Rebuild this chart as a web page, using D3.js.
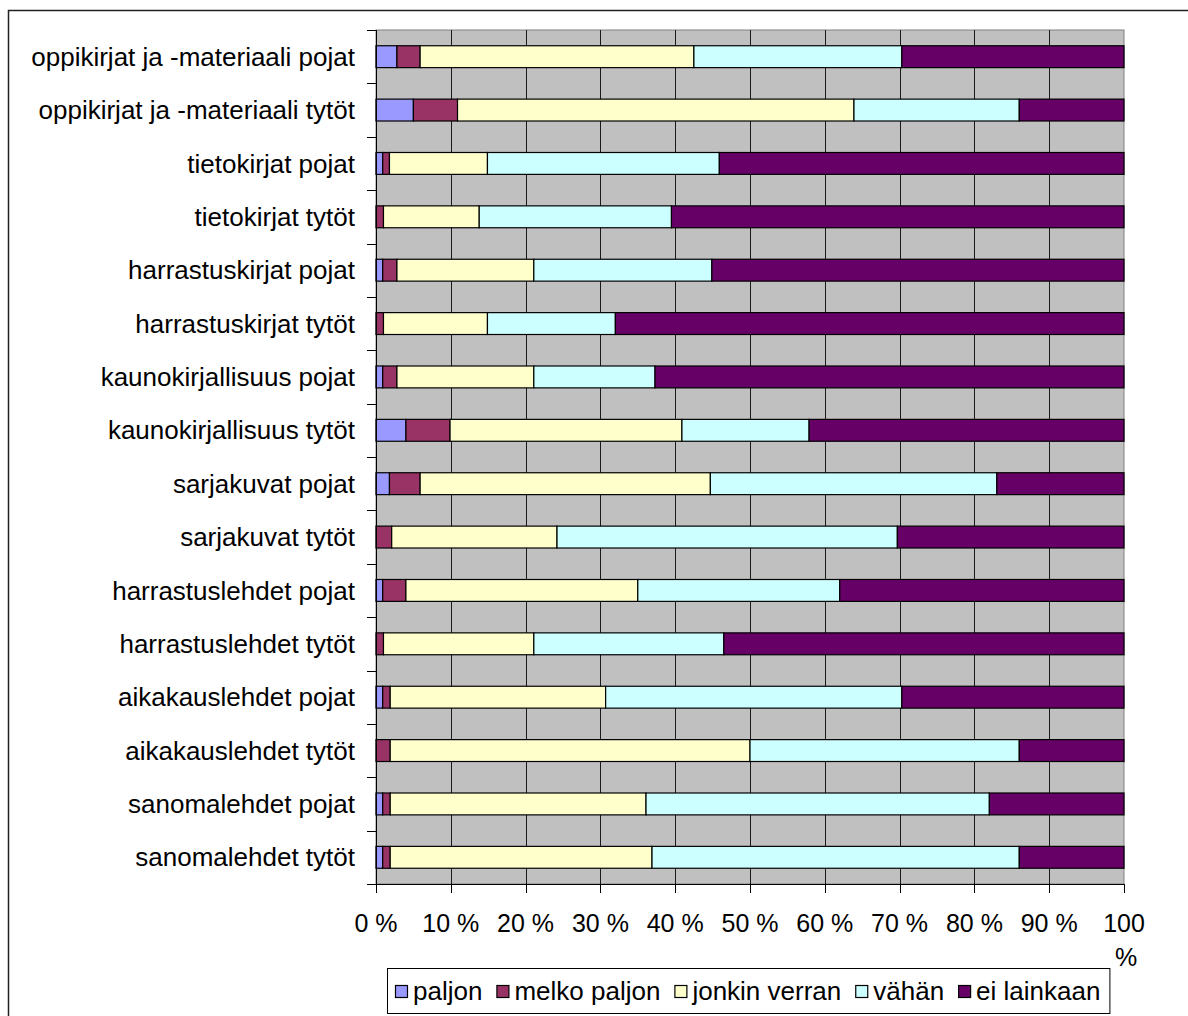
<!DOCTYPE html>
<html>
<head>
<meta charset="utf-8">
<script src="https://cdn.jsdelivr.net/npm/d3@7"></script>
<style>
  html, body { margin: 0; padding: 0; background: #fff; }
  svg { display: block; }
  text { font-family: "Liberation Sans", Arial, sans-serif; fill: #000; }
</style>
</head>
<body>
<svg id="chart" width="1188" height="1016"></svg>
<script>
// Reading of books and magazines, share of answers (%) per group
const categories = [
  "oppikirjat ja -materiaali pojat",
  "oppikirjat ja -materiaali tytöt",
  "tietokirjat pojat",
  "tietokirjat tytöt",
  "harrastuskirjat pojat",
  "harrastuskirjat tytöt",
  "kaunokirjallisuus pojat",
  "kaunokirjallisuus tytöt",
  "sarjakuvat pojat",
  "sarjakuvat tytöt",
  "harrastuslehdet pojat",
  "harrastuslehdet tytöt",
  "aikakauslehdet pojat",
  "aikakauslehdet tytöt",
  "sanomalehdet pojat",
  "sanomalehdet tytöt"
];

const seriesNames = ["paljon", "melko paljon", "jonkin verran", "vähän", "ei lainkaan"];

const paljon       = [2.8, 5.0, 0.9, 0.0, 0.9, 0.0, 0.9, 4.0, 1.8, 0.0, 0.9, 0.0, 0.9, 0.0, 0.9, 0.9];
const melkoPaljon  = [3.1, 5.9, 0.9, 1.0, 1.9, 1.0, 1.9, 5.9, 4.1, 2.1, 3.1, 1.0, 1.0, 1.9, 1.0, 1.0];
const jonkinVerran = [36.6, 53.0, 13.1, 12.8, 18.3, 13.9, 18.3, 31.0, 38.8, 22.1, 31.0, 20.1, 28.8, 48.1, 34.2, 35.0];
const vahan        = [27.8, 22.1, 31.0, 25.7, 23.8, 17.1, 16.2, 17.0, 38.3, 45.5, 27.0, 25.4, 39.6, 36.0, 45.9, 49.1];
const eiLainkaan   = [29.7, 14.0, 54.1, 60.5, 55.1, 68.0, 62.7, 42.1, 17.0, 30.3, 38.0, 53.5, 29.7, 14.0, 18.0, 14.0];

const xTickValues = [0, 10, 20, 30, 40, 50, 60, 70, 80, 90, 100];
const xTickLabels = ["0 %", "10 %", "20 %", "30 %", "40 %", "50 %", "60 %", "70 %", "80 %", "90 %", "100 %"];

const colors = ["#9999FF", "#993366", "#FFFFCC", "#CCFFFF", "#660066"];

// Build rows for the stack layout
const seriesValues = [paljon, melkoPaljon, jonkinVerran, vahan, eiLainkaan];
const rows = categories.map((c, i) => {
  const r = { category: c };
  seriesNames.forEach((s, k) => { r[s] = seriesValues[k][i]; });
  return r;
});

const svg = d3.select("#chart");

const plot = { left: 376, right: 1124, top: 30, bottom: 884 };

const x = d3.scaleLinear().domain([0, 100]).range([plot.left, plot.right]);
const y = d3.scaleBand().domain(categories).range([plot.top, plot.bottom])
  .paddingInner(0.59).paddingOuter(0.295);

// Outer chart frame
svg.append("rect")
  .attr("x", 8.5).attr("y", 10.5)
  .attr("width", 1200).attr("height", 1100)
  .attr("fill", "#fff").attr("stroke", "#222").attr("stroke-width", 1.5);

// Plot background
svg.append("rect")
  .attr("x", plot.left).attr("y", plot.top)
  .attr("width", plot.right - plot.left).attr("height", plot.bottom - plot.top)
  .attr("fill", "#C0C0C0").attr("stroke", "#808080").attr("stroke-width", 1);

// Vertical gridlines
svg.append("g")
  .selectAll("line")
  .data(xTickValues.filter(v => v > 0 && v < 100))
  .join("line")
  .attr("x1", d => Math.round(x(d)) + 0.5).attr("x2", d => Math.round(x(d)) + 0.5)
  .attr("y1", plot.top).attr("y2", plot.bottom)
  .attr("stroke", "#1a1a1a").attr("stroke-width", 1);

// Stacked bars
const stack = d3.stack().keys(seriesNames);
const stacked = stack(rows);

svg.append("g")
  .selectAll("g")
  .data(stacked)
  .join("g")
  .attr("fill", (d, i) => colors[i])
  .selectAll("rect")
  .data(d => d.filter(p => p[1] - p[0] > 0))
  .join("rect")
  .attr("x", d => x(d[0]))
  .attr("y", d => y(d.data.category))
  .attr("width", d => x(d[1]) - x(d[0]))
  .attr("height", y.bandwidth())
  .attr("stroke", "#000")
  .attr("stroke-width", 1.2);

// Y axis: line, category separators and labels
const yAxisG = svg.append("g");
yAxisG.append("line")
  .attr("x1", plot.left + 0.5).attr("x2", plot.left + 0.5)
  .attr("y1", plot.top).attr("y2", plot.bottom)
  .attr("stroke", "#000").attr("stroke-width", 1);

const sepPositions = categories.map(c => y(c) - y.step() * y.paddingInner() / 2).concat([plot.bottom]);
yAxisG.selectAll("line.tick")
  .data(sepPositions)
  .join("line")
  .attr("class", "tick")
  .attr("x1", plot.left - 9).attr("x2", plot.left)
  .attr("y1", d => Math.round(d) + 0.5).attr("y2", d => Math.round(d) + 0.5)
  .attr("stroke", "#000");

yAxisG.selectAll("text")
  .data(categories)
  .join("text")
  .attr("x", 355)
  .attr("y", d => y(d) + y.bandwidth() / 2)
  .attr("dy", "0.35em")
  .attr("text-anchor", "end")
  .attr("font-size", 26)
  .text(d => d);

// X axis: line, ticks and labels
const xAxisG = svg.append("g");
xAxisG.append("line")
  .attr("x1", plot.left).attr("x2", plot.right)
  .attr("y1", plot.bottom + 0.5).attr("y2", plot.bottom + 0.5)
  .attr("stroke", "#000");

xAxisG.selectAll("line.tick")
  .data(xTickValues)
  .join("line")
  .attr("class", "tick")
  .attr("x1", d => Math.round(x(d)) + 0.5).attr("x2", d => Math.round(x(d)) + 0.5)
  .attr("y1", plot.bottom).attr("y2", plot.bottom + 9)
  .attr("stroke", "#000");

const xLabels = xAxisG.selectAll("text")
  .data(xTickValues)
  .join("text")
  .attr("x", d => x(d))
  .attr("y", 932)
  .attr("text-anchor", "middle")
  .attr("font-size", 25);

xLabels.each(function(d, i) {
  const t = d3.select(this);
  const label = xTickLabels[i];
  if (d === 100) {
    // too wide for its slot: wrap onto two lines
    const parts = label.split(" ");
    t.append("tspan").attr("x", x(d)).text(parts[0]);
    t.append("tspan").attr("x", x(d) + 2).attr("dy", 34).text(parts[1]);
  } else {
    t.text(label);
  }
});

// Legend
const legend = svg.append("g");
const legendBox = legend.append("rect")
  .attr("x", 387.5).attr("y", 968.5)
  .attr("height", 45)
  .attr("fill", "#fff").attr("stroke", "#000").attr("stroke-width", 1);

let lx = 395;
seriesNames.forEach((name, i) => {
  legend.append("rect")
    .attr("x", lx + 0.5).attr("y", 985.5)
    .attr("width", 12).attr("height", 12)
    .attr("fill", colors[i]).attr("stroke", "#000").attr("stroke-width", 1.2);
  const t = legend.append("text")
    .attr("x", lx + 18).attr("y", 991)
    .attr("dy", "0.35em")
    .attr("font-size", 26)
    .text(name);
  lx += 18 + t.node().getComputedTextLength() + 14;
});
legendBox.attr("width", lx - 387 - 5);
</script>
</body>
</html>
